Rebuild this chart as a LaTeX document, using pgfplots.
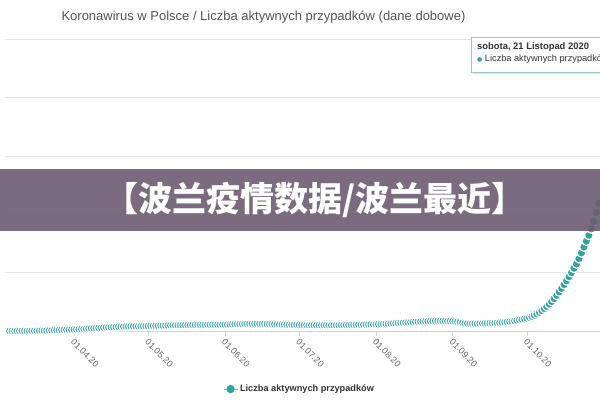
\documentclass[border=0pt]{standalone}
\usepackage{pgfplots}
\usepackage{pgfplotstable}
\pgfplotsset{compat=1.18}
\usepackage{fontspec}
\setmainfont{Liberation Sans}
\newfontfamily\cjk{Noto Sans CJK SC}
\newfontfamily\dejavu{DejaVu Sans}
\definecolor{teal1}{RGB}{43,166,158}
\definecolor{gridcol}{RGB}{230,230,230}
\definecolor{axiscol}{RGB}{204,214,235}
\definecolor{labcol}{RGB}{102,102,102}
\definecolor{titlecol}{RGB}{85,85,85}
\definecolor{bannercol}{RGB}{109,91,113}
\definecolor{tipborder}{RGB}{150,205,200}

\pgfplotstableread{
day val
66 0.01
67 0.02
68 0.04
69 0.05
70 0.06
71 0.1
72 0.15
73 0.2
74 0.23
75 0.28
76 0.35
77 0.42
78 0.5
79 0.62
80 0.74
81 0.9
82 1.05
83 1.2
84 1.35
85 1.5
86 1.65
87 1.8
88 1.95
89 2.1
90 2.2
91 2.35
92 2.5
93 2.8
94 3.1
95 3.4
96 3.7
97 4.0
98 4.3
99 4.6
100 4.9
101 5.2
102 5.5
103 5.8
104 6.0
105 6.3
106 6.5
107 6.7
108 6.9
109 7.0
110 7.2
111 7.3
112 7.5
113 7.6
114 7.8
115 7.9
116 8.0
117 8.1
118 8.2
119 8.3
120 8.4
121 8.5
122 8.6
123 8.7
124 8.8
125 8.9
126 9.0
127 9.2
128 9.3
129 9.4
130 9.5
131 9.6
132 9.7
133 9.8
134 9.9
135 10.0
136 10.1
137 10.2
138 10.3
139 10.3
140 10.4
141 10.4
142 10.5
143 10.5
144 10.6
145 10.6
146 10.7
147 10.7
148 10.8
149 10.8
150 10.9
151 10.9
152 11.0
153 11.0
154 11.2
155 11.3
156 11.5
157 11.6
158 11.8
159 11.9
160 12.0
161 12.1
162 12.2
163 12.3
164 12.3
165 12.4
166 12.4
167 12.3
168 12.2
169 12.1
170 12.0
171 11.9
172 11.7
173 11.6
174 11.4
175 11.3
176 11.1
177 11.0
178 10.9
179 10.8
180 10.7
181 10.6
182 10.5
183 10.4
184 10.3
185 10.2
186 10.1
187 10.0
188 10.0
189 9.9
190 9.9
191 9.8
192 9.8
193 9.8
194 9.8
195 9.8
196 9.8
197 9.8
198 9.9
199 9.9
200 10.0
201 10.1
202 10.2
203 10.3
204 10.4
205 10.5
206 10.6
207 10.7
208 10.8
209 10.9
210 11.0
211 11.1
212 11.2
213 11.3
214 11.5
215 11.7
216 11.9
217 12.1
218 12.3
219 12.5
220 12.8
221 13.0
222 13.3
223 13.6
224 13.9
225 14.2
226 14.5
227 14.8
228 15.1
229 15.4
230 15.7
231 16.0
232 16.2
233 16.4
234 16.6
235 16.8
236 16.9
237 17.0
238 17.1
239 17.2
240 17.2
241 17.2
242 17.1
243 17.0
244 16.9
245 16.7
246 16.4
247 15.8
248 15.0
249 14.0
250 13.2
251 12.8
252 12.6
253 12.6
254 12.6
255 12.7
256 12.8
257 12.9
258 13.0
259 13.1
260 13.3
261 13.5
262 13.7
263 14.0
264 14.3
265 14.7
266 15.1
267 15.6
268 16.1
269 16.7
270 17.4
271 18.2
272 19.0
273 19.9
274 20.8
275 21.8
276 23.3
277 25.0
278 27.0
279 29.3
280 32.0
281 35.0
282 38.3
283 42.0
284 46.0
285 50.5
286 55.5
287 61.0
288 67.0
289 73.0
290 79.5
291 86.0
292 93.0
293 100.0
294 107.5
295 115.0
296 124.0
297 134.0
298 144.0
299 154.0
300 164.0
301 175.0
302 188.0
303 203.0
304 219.0
}\activedata

\begin{document}
\begin{tikzpicture}[x=1pt,y=1pt]
\path[use as bounding box] (0,0) rectangle (600,400);
\clip (0,0) rectangle (600,400);
\fill[white] (0,0) rectangle (600,400);
\node[text=titlecol, font=\fontsize{13}{15}\selectfont] at (263.5,383) {Koronawirus w Polsce / Liczba aktywnych przypadków (dane dobowe)};
\begin{axis}[
  at={(5pt,69pt)}, anchor=south west, scale only axis,
  width=595pt, height=291.7pt,
  xmin=64.1, xmax=304.5, ymin=0, ymax=500,
  clip=false,
  axis x line*=bottom, axis y line*=left,
  y axis line style={draw=none},
  x axis line style={draw=axiscol, line width=0.8pt, -},
  ytick={0,100,...,500}, yticklabels={}, ytick style={draw=none},
  ymajorgrids, grid style={draw=gridcol, line width=0.8pt},
  xtick={92,122,153,183,214,245,275},
  xticklabels={01.04.20,01.05.20,01.06.20,01.07.20,01.08.20,01.09.20,01.10.20},
  xtick style={draw=axiscol, line width=0.8pt},
  tick align=outside, major tick length=5pt,
  xticklabel style={rotate=-45, anchor=north west, font=\fontsize{9}{10}\selectfont, text=labcol, inner sep=1pt, xshift=1pt},
  legend style={at={(0.495,-0.199)}, anchor=center, draw=none, fill=none,
     font=\bfseries\fontsize{9.2}{11}\selectfont, text=black!80},
  legend image code/.code={
     \draw[teal1!70, line width=1pt] (0pt,0pt) -- (14pt,0pt);
     \fill[teal1] (7pt,0pt) circle (3.8pt);},
]
\addplot[color=teal1, line width=0.6pt, mark=*, mark size=4.3pt,
  mark options={fill=teal1, draw=white, line width=1.2pt}] table[x=day,y=val] {\activedata};
\addlegendentry{Liczba aktywnych przypadków}
\end{axis}
% tooltip
\fill[black!10] (473,326) rectangle (612,361);
\filldraw[fill=white, draw=tipborder, line width=0.8pt] (471,328) rectangle (610,363);
\node[anchor=base west, font=\bfseries\fontsize{9.4}{11}\selectfont, text=black!80, inner sep=0] at (477,350.5) {sobota, 21 Listopad 2020};
\node[anchor=base west, font=\fontsize{9.2}{11}\selectfont, text=black!80, inner sep=0] at (477,338.5) {{\dejavu\color{teal1}\fontsize{6}{8}\selectfont ●} Liczba aktywnych przypadków: 473 806};
% banner
\fill[bannercol, opacity=0.9] (0,169) rectangle (600,231);
\node[text=white, font=\cjk\bfseries\fontsize{34}{36}\selectfont] at (315,200.5) {【波兰疫情数据/波兰最近】};
\end{tikzpicture}
\end{document}
